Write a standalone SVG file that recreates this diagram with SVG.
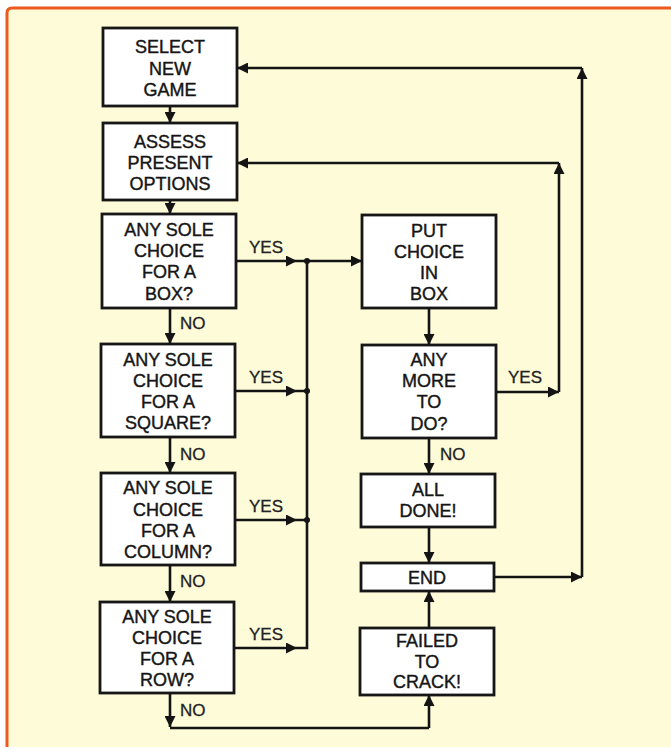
<svg xmlns="http://www.w3.org/2000/svg" width="671" height="749" viewBox="0 0 671 749">
<defs>
<marker id="ah" viewBox="0 0 10 10" refX="10" refY="5" markerWidth="12" markerHeight="11" markerUnits="userSpaceOnUse" orient="auto">
<path d="M0,0 L10,5 L0,10 z" fill="#141414"/>
</marker>
<linearGradient id="bot" x1="0" y1="0" x2="1" y2="0">
<stop offset="0" stop-color="#ef5a1c"/>
<stop offset="0.55" stop-color="#f5a040"/>
<stop offset="1" stop-color="#f3e6a0"/>
</linearGradient>
<style>
.box{fill:#ffffff;stroke:#161616;stroke-width:2.8}
.t{font-family:"Liberation Sans",Arial,sans-serif;font-size:18px;fill:#151515;text-anchor:middle;stroke:#151515;stroke-width:0.4}
.lbl{font-family:"Liberation Sans",Arial,sans-serif;font-size:17px;fill:#222;stroke:#222;stroke-width:0.3}
.c{fill:none;stroke:#141414;stroke-width:2.6}
.a{marker-end:url(#ah)}
</style>
</defs>
<rect x="0" y="0" width="671" height="749" fill="#ffffff"/>
<rect x="7" y="8" width="680" height="739" rx="5" fill="#fefbd9"/>
<path d="M7,747 V13 Q7,8 12,8 H671" fill="none" stroke="#ec5a1e" stroke-width="3"/>
<path d="M7,747 H671" fill="none" stroke="url(#bot)" stroke-width="3"/>

<g id="connectors">
<path class="c a" d="M170,106 V123"/>
<path class="c a" d="M170,200 V214"/>
<path class="c a" d="M170,308 V344"/>
<path class="c a" d="M170,437 V473"/>
<path class="c a" d="M170,565 V602"/>
<path class="c a" d="M236,261 H297"/>
<path class="c a" d="M235,391 H297"/>
<path class="c a" d="M235,520 H297"/>
<path class="c a" d="M234,648 H297"/>
<path class="c" d="M297,261 H307 M297,391 H307 M297,520 H307 M307,261 V648 H297"/>
<path class="c a" d="M307,261 H362"/>
<circle cx="307" cy="261" r="3" fill="#141414"/>
<circle cx="307" cy="391" r="3" fill="#141414"/>
<circle cx="307" cy="520" r="3" fill="#141414"/>
<path class="c a" d="M429,308 V345"/>
<path class="c a" d="M429,438 V474"/>
<path class="c a" d="M429,527 V563"/>
<path class="c a" d="M429,728 V695"/>
<path class="c a" d="M429,628 V591"/>
<path class="c a" d="M170,693 V727"/>
<path class="c" d="M170,728 H429"/>
<path class="c a" d="M496,392 H559"/>
<path class="c a" d="M559,392 V163"/>
<path class="c a" d="M559,163 H237"/>
<path class="c a" d="M494,577 H582"/>
<path class="c a" d="M582,577 V68"/>
<path class="c a" d="M582,68 H237"/>
<text class="lbl" x="249" y="253">YES</text>
<text class="lbl" x="249" y="383">YES</text>
<text class="lbl" x="249" y="512">YES</text>
<text class="lbl" x="249" y="640">YES</text>
<text class="lbl" x="508" y="383">YES</text>
<text class="lbl" x="180" y="329">NO</text>
<text class="lbl" x="180" y="460">NO</text>
<text class="lbl" x="180" y="587">NO</text>
<text class="lbl" x="180" y="716">NO</text>
<text class="lbl" x="440" y="460">NO</text>
</g>

<g id="select-new-game">
<rect class="box" x="103" y="28" width="134" height="78"/>
<text class="t" x="170" y="53">SELECT</text>
<text class="t" x="170" y="75">NEW</text>
<text class="t" x="170" y="96">GAME</text>
</g>
<g id="assess-present-options">
<rect class="box" x="103" y="123" width="134" height="77"/>
<text class="t" x="170" y="148">ASSESS</text>
<text class="t" x="170" y="169">PRESENT</text>
<text class="t" x="170" y="190">OPTIONS</text>
</g>
<g id="sole-box">
<rect class="box" x="102" y="214" width="134" height="94"/>
<text class="t" x="169" y="236">ANY SOLE</text>
<text class="t" x="169" y="257">CHOICE</text>
<text class="t" x="169" y="278">FOR A</text>
<text class="t" x="169" y="300">BOX?</text>
</g>
<g id="sole-square">
<rect class="box" x="101" y="344" width="134" height="93"/>
<text class="t" x="168" y="366">ANY SOLE</text>
<text class="t" x="168" y="387">CHOICE</text>
<text class="t" x="168" y="408">FOR A</text>
<text class="t" x="168" y="429">SQUARE?</text>
</g>
<g id="sole-column">
<rect class="box" x="101" y="473" width="134" height="92"/>
<text class="t" x="168" y="494">ANY SOLE</text>
<text class="t" x="168" y="516">CHOICE</text>
<text class="t" x="168" y="537">FOR A</text>
<text class="t" x="168" y="558">COLUMN?</text>
</g>
<g id="sole-row">
<rect class="box" x="100" y="602" width="134" height="91"/>
<text class="t" x="167" y="623">ANY SOLE</text>
<text class="t" x="167" y="644">CHOICE</text>
<text class="t" x="167" y="665">FOR A</text>
<text class="t" x="167" y="686">ROW?</text>
</g>
<g id="put-choice">
<rect class="box" x="362" y="215" width="134" height="93"/>
<text class="t" x="429" y="237">PUT</text>
<text class="t" x="429" y="258">CHOICE</text>
<text class="t" x="429" y="279">IN</text>
<text class="t" x="429" y="300">BOX</text>
</g>
<g id="any-more">
<rect class="box" x="362" y="345" width="134" height="93"/>
<text class="t" x="429" y="366">ANY</text>
<text class="t" x="429" y="387">MORE</text>
<text class="t" x="429" y="408">TO</text>
<text class="t" x="429" y="430">DO?</text>
</g>
<g id="all-done">
<rect class="box" x="361" y="474" width="134" height="53"/>
<text class="t" x="428" y="496">ALL</text>
<text class="t" x="428" y="517">DONE!</text>
</g>
<g id="end">
<rect class="box" x="361" y="563" width="133" height="28"/>
<text class="t" x="427" y="584">END</text>
</g>
<g id="failed">
<rect class="box" x="360" y="628" width="134" height="67"/>
<text class="t" x="427" y="647">FAILED</text>
<text class="t" x="427" y="668">TO</text>
<text class="t" x="427" y="688">CRACK!</text>
</g>
</svg>
